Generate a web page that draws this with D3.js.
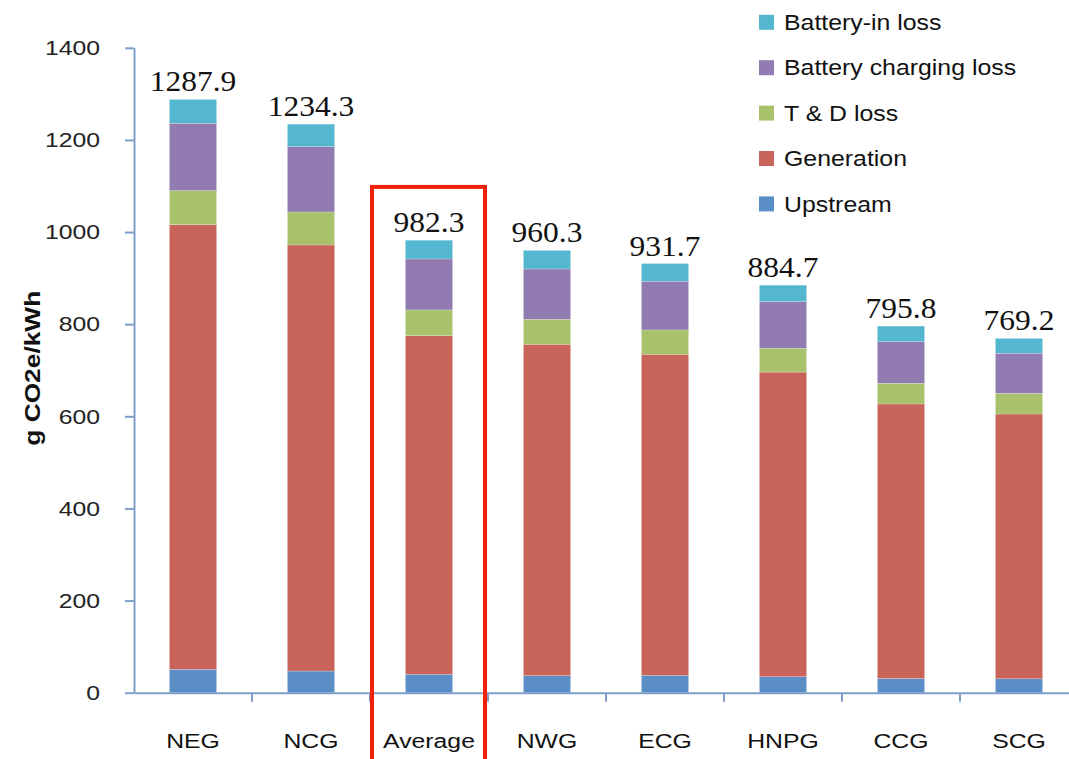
<!DOCTYPE html>
<html>
<head>
<meta charset="utf-8">
<script src="https://cdn.jsdelivr.net/npm/d3@7"></script>
<style>
  html, body { margin: 0; padding: 0; background: #fff; }
  svg { display: block; }
</style>
</head>
<body>
<svg id="chart" width="1069" height="759"></svg>
<script>
const categories = ["NEG", "NCG", "Average", "NWG", "ECG", "HNPG", "CCG", "SCG"];
const upstream        = [50.7, 47.0, 40.0, 37.0, 37.7, 34.7, 31.0, 30.3];
const generation      = [965.3, 925.0, 735.1, 719.4, 697.0, 661.3, 595.8, 574.7];
const tdLoss          = [73.9, 71.6, 55.8, 54.2, 52.8, 51.7, 44.9, 45.0];
const chargingLoss    = [146.3, 141.8, 110.7, 109.3, 105.7, 101.2, 90.3, 86.9];
const batteryInLoss   = [51.7, 48.9, 40.7, 40.4, 38.5, 35.8, 33.8, 32.3];
const totals          = ["1287.9", "1234.3", "982.3", "960.3", "931.7", "884.7", "795.8", "769.2"];
const seriesNames     = ["Upstream", "Generation", "T & D loss", "Battery charging loss", "Battery-in loss"];
const yTicks          = [0, 200, 400, 600, 800, 1000, 1200, 1400];
const highlighted     = "Average";

const colors = ["#5b8ec7", "#c9645b", "#a7c26a", "#917bb0", "#54b6cf"];
const seriesValues = [upstream, generation, tdLoss, chargingLoss, batteryInLoss];

const svg = d3.select("#chart");
const axisColor = "#7f9fc8";
const sansFont = "'Liberation Sans', Arial, sans-serif";
const stretch = 1.18; // the reference text is horizontally stretched

const x = d3.scaleBand().domain(categories).range([134, 1078]).paddingInner(0.6).paddingOuter(0.3);
const y = d3.scaleLinear().domain([0, 1400]).range([692.7, 47.8]);

// build stacked table
const table = categories.map((c, i) => {
  const row = { category: c };
  seriesNames.forEach((s, k) => row[s] = seriesValues[k][i]);
  return row;
});
const stack = d3.stack().keys(seriesNames)(table);

const gBars = svg.append("g");
gBars.selectAll("g.series").data(stack).join("g")
  .attr("fill", (d, k) => colors[k])
  .selectAll("rect").data(d => d).join("rect")
  .attr("x", d => x(d.data.category))
  .attr("width", x.bandwidth())
  .attr("y", d => y(d[1]))
  .attr("height", d => y(d[0]) - y(d[1]))
  .attr("stroke", "#ffffff")
  .attr("stroke-opacity", 0.35)
  .attr("stroke-width", 0.6);

// value labels
svg.append("g").selectAll("text").data(categories).join("text")
  .attr("transform", (c, i) => `translate(${x(c) + x.bandwidth() / 2},${y(+totals[i]) - 8}) scale(1.05,1)`)
  .attr("text-anchor", "middle")
  .attr("font-family", "'Liberation Serif', 'Times New Roman', serif")
  .attr("font-size", 30)
  .attr("fill", "#111")
  .text((c, i) => totals[i]);

// y axis
const yAxis = d3.axisLeft(y).tickValues(yTicks).tickFormat(d3.format("d")).tickSize(9).tickPadding(0).tickSizeOuter(0);
const gy = svg.append("g").attr("transform", `translate(${x.range()[0]},0)`).call(yAxis);
gy.select(".domain").attr("stroke", axisColor).attr("stroke-width", 2);
gy.selectAll(".tick line").attr("stroke", axisColor).attr("stroke-width", 2);
gy.selectAll(".tick text")
  .attr("x", null)
  .attr("transform", `translate(-34,0) scale(${stretch},1)`)
  .attr("font-family", sansFont)
  .attr("font-size", 21).attr("fill", "#222");

// x axis
const xAxis = d3.axisBottom(x).tickSize(0).tickPadding(0);
const gx = svg.append("g").attr("transform", `translate(0,${y(0)})`).call(xAxis);
gx.select(".domain").attr("stroke", axisColor).attr("stroke-width", 2);
gx.selectAll(".tick text")
  .attr("y", null).attr("dy", null)
  .attr("transform", `translate(0,55) scale(${stretch},1)`)
  .attr("font-family", sansFont)
  .attr("font-size", 21).attr("fill", "#111");
// category boundary ticks
gx.selectAll("line.sep").data(categories.slice(1)).join("line")
  .attr("class", "sep")
  .attr("x1", c => x(c) - x.step() * 0.3)
  .attr("x2", c => x(c) - x.step() * 0.3)
  .attr("y1", 0).attr("y2", 9)
  .attr("stroke", axisColor).attr("stroke-width", 2);
gx.append("line")
  .attr("x1", x.range()[1]).attr("x2", x.range()[1]).attr("y1", 0).attr("y2", 9)
  .attr("stroke", axisColor).attr("stroke-width", 2);

// y axis title
svg.append("text")
  .attr("transform", `translate(40,${y(700) - 2}) rotate(-90)`)
  .attr("text-anchor", "middle")
  .attr("font-family", sansFont)
  .attr("font-weight", "bold")
  .attr("font-size", 22)
  .attr("textLength", 155)
  .attr("lengthAdjust", "spacingAndGlyphs")
  .attr("fill", "#111")
  .text("g CO2e/kWh");

// highlight box around Average
const hx0 = x(highlighted) - x.step() * 0.3 + 2;
const hx1 = hx0 + x.step() - 5;
svg.append("rect")
  .attr("x", hx0).attr("y", y(1098))
  .attr("width", hx1 - hx0).attr("height", 800)
  .attr("fill", "none").attr("stroke", "#f0200c").attr("stroke-width", 4);

// legend (top to bottom reversed)
const legendItems = seriesNames.map((s, k) => ({ name: s, color: colors[k] })).reverse();
const lg = svg.append("g").selectAll("g").data(legendItems).join("g")
  .attr("transform", (d, i) => `translate(759,${22.3 + i * 45.4})`);
lg.append("rect").attr("x", 0).attr("y", -7.5).attr("width", 15).attr("height", 15).attr("fill", d => d.color);
lg.append("text")
  .attr("transform", `translate(25,0) scale(1.13,1)`)
  .attr("dy", "0.35em")
  .attr("font-family", sansFont)
  .attr("font-size", 22).attr("fill", "#111")
  .text(d => d.name);
</script>
</body>
</html>
